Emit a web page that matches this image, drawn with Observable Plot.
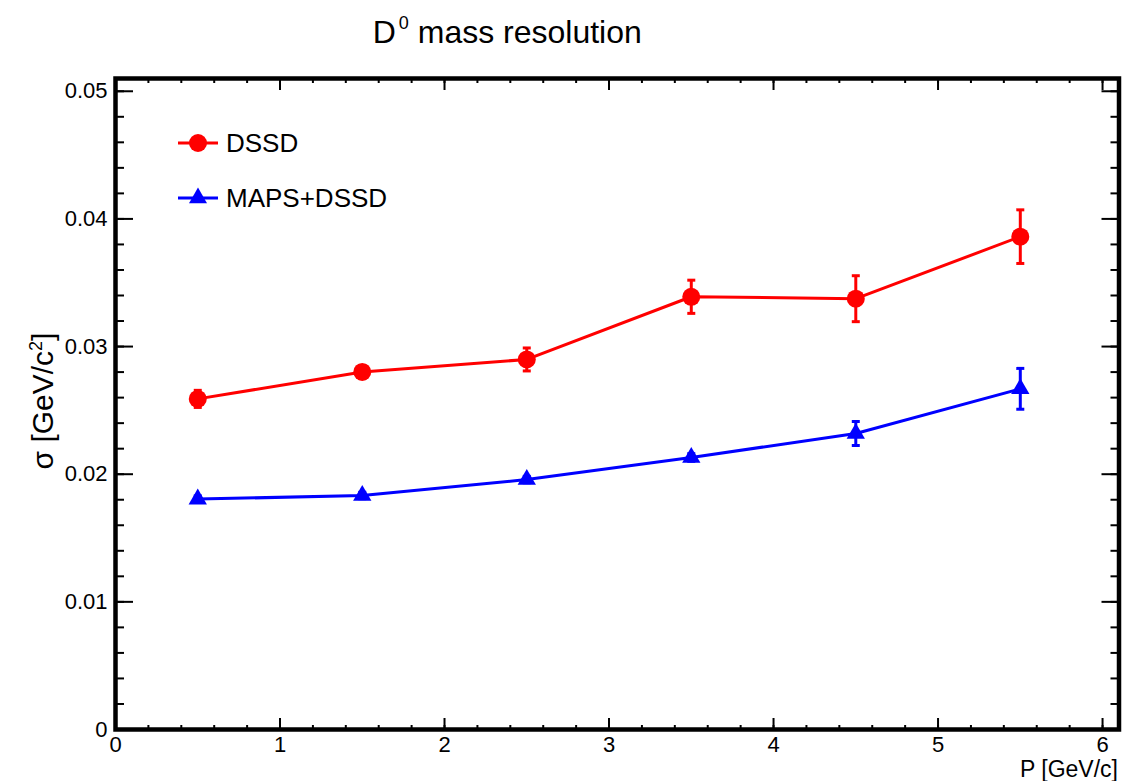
<!DOCTYPE html>
<html><head><meta charset="utf-8">
<script src="https://cdn.jsdelivr.net/npm/d3@7"></script>
<script src="https://cdn.jsdelivr.net/npm/@observablehq/plot@0.6"></script>
<style>
body{margin:0;background:#fff;font-family:"Liberation Sans",Arial,sans-serif;}
#wrap{position:relative;width:1140px;height:781px;overflow:hidden;}
.leg{position:absolute;display:flex;align-items:center;height:30px;font-size:26px;color:#000;white-space:nowrap;}
.leg svg{margin-right:6px;}
</style></head><body><div id="wrap"></div>
<script>
// ---- data ----
const momentum = [0.5, 1.5, 2.5, 3.5, 4.5, 5.5];
const dssdSigma = [0.02590, 0.02801, 0.02899, 0.03390, 0.03375, 0.03861];
const dssdErr   = [0.00067, 0.00050, 0.00090, 0.00130, 0.00180, 0.00210];
const mapsSigma = [0.01805, 0.01833, 0.01958, 0.02131, 0.02319, 0.02669];
const mapsErr   = [0.00025, 0.00025, 0.00025, 0.00030, 0.00094, 0.00160];
const seriesNames = ["DSSD", "MAPS+DSSD"];
const xTicks = [0, 1, 2, 3, 4, 5, 6];
const xTickLabels = ["0", "1", "2", "3", "4", "5", "6"];
const yTicks = [0, 0.01, 0.02, 0.03, 0.04, 0.05];
const yTickLabels = ["0", "0.01", "0.02", "0.03", "0.04", "0.05"];
const xMinor = d3.range(0, 31).map(i => +(i * 0.2).toFixed(2));
const yMinor = d3.range(0, 26).map(i => +(i * 0.002).toFixed(3));

const series = [
  {name: seriesNames[0], color: "#ff0000", symbol: "circle", r: 9, y: dssdSigma, e: dssdErr},
  {name: seriesNames[1], color: "#0000ff", symbol: "triangle", r: 6.8, y: mapsSigma, e: mapsErr}
];
const rows = s => momentum.map((p, i) => ({series: s.name, p, sigma: s.y[i], err: s.e[i]}));

const capSymbol = {draw(ctx, size) { const w = Math.sqrt(size / Math.PI); ctx.moveTo(-w, 0); ctx.lineTo(w, 0); }};

const marks = [];
for (const s of series) {
  const d = rows(s);
  marks.push(
    Plot.ruleX(d, {x: "p", y1: r => r.sigma - r.err, y2: r => r.sigma + r.err, stroke: s.color, strokeWidth: 3}),
    Plot.dot(d, {x: "p", y: r => r.sigma + r.err, symbol: capSymbol, r: 4, stroke: s.color, strokeWidth: 3, fill: "none"}),
    Plot.dot(d, {x: "p", y: r => r.sigma - r.err, symbol: capSymbol, r: 4, stroke: s.color, strokeWidth: 3, fill: "none"}),
    Plot.line(d, {x: "p", y: "sigma", stroke: s.color, strokeWidth: 3}),
    Plot.dot(d, {x: "p", y: "sigma", symbol: s.symbol, r: s.r, fill: s.color, stroke: "none"})
  );
}

const tickOpts = {strokeWidth: 2, stroke: "black", fill: "none", label: null};
const textOpts = {stroke: "none", fill: "black", label: null, fontSize: 22};

const plot = Plot.plot({
  width: 1140, height: 781,
  marginLeft: 115, marginRight: 21.5, marginTop: 78, marginBottom: 52,
  x: {domain: [0, 6.1]},
  y: {domain: [0, 0.051]},
  style: {fontFamily: "'Liberation Sans', Arial, sans-serif", background: "white", color: "black"},
  marks: [
    ...marks,
    // inward ticks: bottom & top
    Plot.axisX({...tickOpts, ticks: xTicks, anchor: "top", frameAnchor: "bottom", tickSize: 12}),
    Plot.axisX({...tickOpts, ticks: xMinor, anchor: "top", frameAnchor: "bottom", tickSize: 5}),
    Plot.axisX({...tickOpts, ticks: xTicks, anchor: "bottom", frameAnchor: "top", tickSize: 12}),
    Plot.axisX({...tickOpts, ticks: xMinor, anchor: "bottom", frameAnchor: "top", tickSize: 5}),
    // inward ticks: left & right
    Plot.axisY({...tickOpts, ticks: yTicks, anchor: "right", frameAnchor: "left", tickSize: 17}),
    Plot.axisY({...tickOpts, ticks: yMinor, anchor: "right", frameAnchor: "left", tickSize: 8}),
    Plot.axisY({...tickOpts, ticks: yTicks, anchor: "left", frameAnchor: "right", tickSize: 17}),
    Plot.axisY({...tickOpts, ticks: yMinor, anchor: "left", frameAnchor: "right", tickSize: 8}),
    // tick labels
    Plot.axisX({...textOpts, ticks: xTicks, anchor: "bottom", tickSize: 0, tickPadding: 7, tickFormat: v => xTickLabels[xTicks.indexOf(v)]}),
    Plot.axisY({...textOpts, ticks: yTicks, anchor: "left", tickSize: 0, tickPadding: 8, tickFormat: v => yTickLabels[yTicks.indexOf(v)]}),
    Plot.frame({stroke: "black", strokeWidth: 4.5}),
    // titles
    Plot.text(["D0 mass resolution"], {frameAnchor: "top", text: d => d, textAnchor: "middle", dx: -110, dy: -36, lineAnchor: "bottom", fontSize: 32, fill: "black"}),
    Plot.text(["P [GeV/c]"], {frameAnchor: "bottom-right", text: d => d, textAnchor: "end", dx: -1, dy: 47, lineAnchor: "bottom", fontSize: 23, fill: "black"}),
    Plot.text(["σ [GeV/c2]"], {frameAnchor: "left", text: d => d, textAnchor: "middle", rotate: -90, dx: -72, dy: -3, lineAnchor: "middle", fontSize: 30, fill: "black"})
  ]
});

// superscripts
d3.select(plot).selectAll("text").each(function() {
  const el = d3.select(this);
  const t = this.textContent;
  if (t === "D0 mass resolution") {
    el.text("");
    el.append("tspan").text("D");
    el.append("tspan").attr("dx", 3).attr("dy", -14).attr("font-size", 18).text("0");
    el.append("tspan").attr("dy", 14).text(" mass resolution");
  } else if (t === "σ [GeV/c2]") {
    el.text("");
    el.append("tspan").text("σ [GeV/c");
    el.append("tspan").attr("dy", -11).attr("font-size", 18).text("2");
    el.append("tspan").attr("dy", 11).text("]");
  }
});

const wrap = document.getElementById("wrap");
wrap.appendChild(plot);

// legend
const legendItems = [
  {name: seriesNames[0], color: "#ff0000", shape: '<circle cx="22" cy="15" r="9"/>'},
  {name: seriesNames[1], color: "#0000ff", shape: '<path d="M22,4.6L31,20.2L13,20.2Z"/>'}
];
const legendTop = [128, 183];
legendItems.forEach((it, i) => {
  const div = document.createElement("div");
  div.className = "leg";
  div.style.left = "176px";
  div.style.top = legendTop[i] + "px";
  div.innerHTML = `<svg width="44" height="30"><line x1="2" x2="42" y1="15" y2="15" stroke="${it.color}" stroke-width="3"/><g fill="${it.color}">${it.shape}</g></svg><span>${it.name}</span>`;
  wrap.appendChild(div);
});
</script></body></html>
